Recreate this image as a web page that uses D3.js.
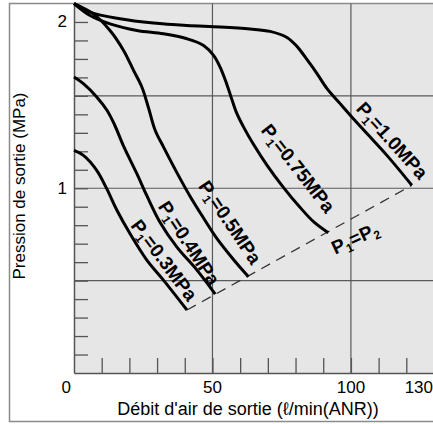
<!DOCTYPE html>
<html>
<head>
<meta charset="utf-8">
<script src="https://cdn.jsdelivr.net/npm/d3@7"></script>
<style>
  body { margin: 0; background: #fff; }
  svg { display: block; font-family: "Liberation Sans", Arial, Helvetica, sans-serif; }
</style>
</head>
<body>
<div id="pressure-chart"></div>
<script>
// inlet pressure written on each curve (MPa)
var inletPressures = ["1.0", "0.75", "0.5", "0.4", "0.3"];

// outlet pressure (MPa) against air flow (l/min ANR), one array per inlet pressure
var flowP10 = [[0, 2.0], [5.8, 1.953], [16.6, 1.917], [28.7, 1.894], [40.8, 1.881], [52.8, 1.873],
  [63.6, 1.862], [70.8, 1.849], [76.9, 1.816], [80.5, 1.768], [84.1, 1.697], [87.7, 1.622],
  [91.3, 1.541], [96.1, 1.458], [100.8, 1.378], [105.8, 1.296], [113.0, 1.178], [122.0, 1.016]];
var flowP075 = [[0, 2.0], [5.8, 1.935], [13.0, 1.890], [22.7, 1.854], [32.3, 1.836], [40.8, 1.809],
  [46.8, 1.773], [50.4, 1.719], [52.8, 1.654], [55.2, 1.562], [57.0, 1.481], [58.8, 1.405],
  [61.1, 1.335], [64.8, 1.238], [69.6, 1.127], [75.6, 1.005], [81.6, 0.897], [86.7, 0.816], [91.8, 0.759]];
var flowP05 = [[0, 2.0], [7.0, 1.944], [13.0, 1.854], [17.9, 1.746], [21.5, 1.638], [24.5, 1.548],
  [27.0, 1.430], [29.3, 1.314], [32.3, 1.224], [37.1, 1.086], [41.9, 0.957], [46.6, 0.843],
  [51.5, 0.730], [57.5, 0.616], [63.0, 0.521]];
var flowP04 = [[0, 1.602], [3.4, 1.566], [8.2, 1.494], [11.9, 1.422], [14.6, 1.345], [17.9, 1.228],
  [22.7, 1.079], [26.3, 0.960], [31.1, 0.815], [37.1, 0.683], [44.4, 0.557], [51.0, 0.427]];
var flowP03 = [[0, 1.205], [3.4, 1.178], [8.2, 1.097], [11.9, 0.995], [15.5, 0.881], [20.2, 0.755],
  [26.3, 0.611], [32.3, 0.503], [40.8, 0.341]];

// ends of the dashed P1=P2 line
var equalPressure = [[40.8, 0.341], [122.0, 1.016]];

var xTickLabels = [0, 50, 100, 130];
var yTickLabels = [1, 2];
var xGridValues = [50, 100];
var yGridValues = [0.5, 1, 1.5];

// define the constructor function
function PressureChart() {
  var self = this;
  self.init();
}

PressureChart.prototype.init = function () {
  var self = this;
  self.width = 433;
  self.height = 424;
  self.plot = { left: 74, top: 3.5, right: 434, bottom: 373 };

  self.svg = d3.select("#pressure-chart").append("svg")
    .attr("width", self.width)
    .attr("height", self.height);

  self.x = d3.scaleLinear().domain([0, 130]).range([self.plot.left, self.plot.right]);
  self.y = d3.scaleLinear().domain([0, 2]).range([self.plot.bottom, self.plot.top]);

  self.draw();
}

PressureChart.prototype.draw = function () {
  var self = this;
  var x = self.x, y = self.y, p = self.plot;

  // grey plot area
  self.svg.append("rect")
    .attr("x", p.left).attr("y", p.top)
    .attr("width", p.right - p.left).attr("height", p.bottom - p.top)
    .attr("fill", "#e6e6e6");

  // outer frame
  self.svg.append("path")
    .attr("d", "M" + self.width + "," + p.top + "H9.5V421.5H" + self.width)
    .attr("fill", "none")
    .attr("stroke", "#8a8a8a")
    .attr("stroke-width", 1.5);

  // grid lines
  self.svg.selectAll("line.vgrid").data(xGridValues).enter().append("line")
    .attr("class", "vgrid")
    .attr("x1", function (d) { return x(d); }).attr("x2", function (d) { return x(d); })
    .attr("y1", p.top).attr("y2", p.bottom)
    .attr("stroke", "#5a5a5a").attr("stroke-width", 1.2);

  self.svg.selectAll("line.hgrid").data(yGridValues).enter().append("line")
    .attr("class", "hgrid")
    .attr("x1", p.left).attr("x2", p.right)
    .attr("y1", function (d) { return y(d); }).attr("y2", function (d) { return y(d); })
    .attr("stroke", "#5a5a5a").attr("stroke-width", 1.2);

  // minor ticks pointing into the plot
  var yAxis = d3.axisLeft(y)
    .tickValues(d3.range(1, 20).map(function (i) { return i / 10; }))
    .tickSize(-14).tickSizeOuter(0).tickFormat("");
  var xAxis = d3.axisBottom(x)
    .tickValues(d3.range(10, 130, 10))
    .tickSize(-15).tickSizeOuter(0).tickFormat("");

  var gy = self.svg.append("g")
    .attr("transform", "translate(" + p.left + ",0)")
    .call(yAxis);
  var gx = self.svg.append("g")
    .attr("transform", "translate(0," + p.bottom + ")")
    .call(xAxis);
  [gx, gy].forEach(function (g) {
    g.selectAll("line").attr("stroke", "#555").attr("stroke-width", 1.3);
    g.select(".domain").attr("stroke", "#555").attr("stroke-width", 1.5);
  });

  // tick labels
  self.svg.selectAll("text.ylab").data(yTickLabels).enter().append("text")
    .attr("class", "ylab")
    .attr("x", p.left - 7)
    .attr("y", function (d) { return Math.max(y(d), p.top + 17); })
    .attr("dy", "0.36em")
    .attr("text-anchor", "end")
    .attr("font-size", 17)
    .text(function (d) { return d; });

  self.svg.selectAll("text.xlab").data(xTickLabels).enter().append("text")
    .attr("class", "xlab")
    .attr("x", function (d, i) {
      if (i === 0) return x(d) - 3;
      if (i === xTickLabels.length - 1) return self.width;
      return x(d);
    })
    .attr("y", 393)
    .attr("text-anchor", function (d, i) {
      if (i === 0 || i === xTickLabels.length - 1) return "end";
      return "middle";
    })
    .attr("font-size", 17)
    .text(function (d) { return d; });

  // axis titles
  self.svg.append("text")
    .attr("x", 248).attr("y", 415)
    .attr("text-anchor", "middle")
    .attr("font-size", 18)
    .text("Débit d'air de sortie (ℓ/min(ANR))");

  self.svg.append("text")
    .attr("transform", "translate(25,186) rotate(-90)")
    .attr("text-anchor", "middle")
    .attr("font-size", 17)
    .text("Pression de sortie (MPa)");

  // dashed P1=P2 line
  self.svg.append("path")
    .datum(equalPressure)
    .attr("fill", "none")
    .attr("stroke", "#333")
    .attr("stroke-width", 1.3)
    .attr("stroke-dasharray", "10,7")
    .attr("d", d3.line().x(function (d) { return x(d[0]); }).y(function (d) { return y(d[1]); }));

  // characteristic curves
  var line = d3.line()
    .curve(d3.curveCatmullRom.alpha(0.5))
    .x(function (d) { return x(d[0]); })
    .y(function (d) { return y(d[1]); });

  [flowP10, flowP075, flowP05, flowP04, flowP03].forEach(function (curve) {
    self.svg.append("path")
      .datum(curve)
      .attr("fill", "none")
      .attr("stroke", "#000")
      .attr("stroke-width", 3)
      .attr("stroke-linejoin", "round")
      .attr("d", line);
  });

  // curve labels, set parallel to their curve
  var spots = [
    { x: 114.9, y: 1.259, a: 48 },
    { x: 81.0, y: 1.108, a: 52 },
    { x: 56.4, y: 0.816, a: 56 },
    { x: 41.6, y: 0.703, a: 57 },
    { x: 32.6, y: 0.611, a: 53 }
  ];

  inletPressures.forEach(function (val, i) {
    var t = self.svg.append("text")
      .attr("transform", "translate(" + x(spots[i].x) + "," + y(spots[i].y) + ") rotate(" + spots[i].a + ")")
      .attr("text-anchor", "middle")
      .attr("dy", "0.35em")
      .attr("font-size", 19)
      .attr("font-weight", "bold");
    t.append("tspan").text("P");
    t.append("tspan").attr("font-size", 12).attr("dy", 4).text("1");
    t.append("tspan").attr("dy", -4).text("=" + val + "MPa");
  });

  var eq = self.svg.append("text")
    .attr("transform", "translate(" + x(101.5) + "," + y(0.73) + ") rotate(-25)")
    .attr("text-anchor", "middle")
    .attr("dy", "0.35em")
    .attr("font-size", 19)
    .attr("font-weight", "bold");
  eq.append("tspan").text("P");
  eq.append("tspan").attr("font-size", 12).attr("dy", 4).text("1");
  eq.append("tspan").attr("dy", -4).text("=P");
  eq.append("tspan").attr("font-size", 12).attr("dy", 4).text("2");
}

var chart = new PressureChart();
</script>
</body>
</html>
